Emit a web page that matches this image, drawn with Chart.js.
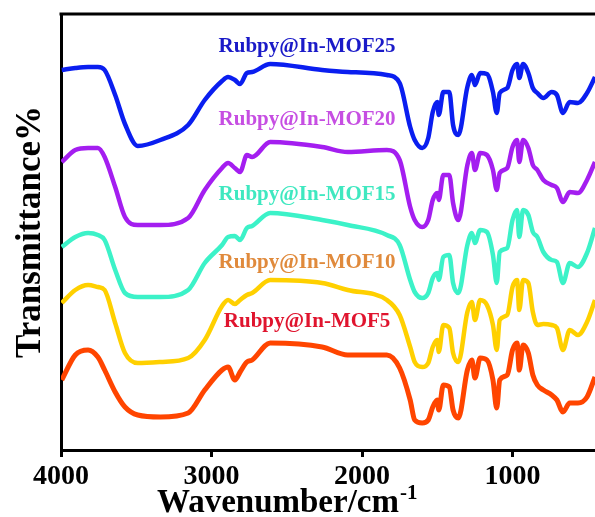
<!DOCTYPE html>
<html>
<head>
<meta charset="utf-8">
<script src="https://cdn.jsdelivr.net/npm/chart.js@4/dist/chart.umd.min.js"></script>
<style>
  html, body { margin: 0; padding: 0; background: #ffffff; }
  #wrap { width: 595px; height: 517px; }
</style>
</head>
<body>
<div id="wrap"><canvas id="c" width="595" height="517"></canvas></div>
<script>
// Wavenumbers (cm-1), shared by all spectra
const wavenumbers = [3995, 3905, 3820, 3755, 3710, 3640, 3575, 3490, 3340, 3155,
  3045, 2930, 2890, 2845, 2810, 2765, 2730, 2610, 2265, 2095,
  1835, 1750, 1680, 1650, 1600, 1560, 1530, 1500, 1490, 1460,
  1420, 1395, 1360, 1300, 1270, 1250, 1215, 1170, 1130, 1105,
  1085, 1035, 1000, 970, 955, 930, 895, 865, 835, 795,
  740, 705, 665, 620, 565, 505, 452];

// Stacked transmittance traces (arbitrary offset units)
const mof25 = [381, 383, 384, 384, 381, 356, 327, 305, 311, 326,
  351, 370, 374, 371, 367, 378, 379, 387, 381, 379,
  376, 368, 324, 311, 303, 313, 339, 349, 336, 359,
  359, 326, 316, 364, 376, 366, 378, 377, 359, 338,
  358, 363, 381, 387, 373, 387, 378, 363, 358, 353,
  359, 356, 338, 349, 348, 358, 374];
const mof20 = [289, 301, 303, 303, 294, 264, 234, 226, 226, 233,
  261, 283, 288, 283, 279, 296, 294, 309, 304, 299,
  301, 291, 244, 231, 224, 231, 251, 258, 251, 276,
  276, 248, 231, 286, 298, 281, 298, 296, 281, 261,
  278, 283, 304, 311, 289, 311, 303, 286, 281, 271,
  266, 263, 249, 259, 258, 271, 289];
const mof15 = [204, 214, 218, 216, 211, 181, 158, 154, 154, 161,
  188, 206, 214, 215, 211, 223, 225, 238, 231, 226,
  216, 206, 171, 159, 153, 158, 173, 178, 171, 194,
  196, 168, 158, 206, 218, 208, 221, 219, 196, 168,
  199, 203, 231, 241, 214, 241, 236, 219, 214, 199,
  191, 189, 168, 188, 184, 198, 223];
const mof10 = [148, 161, 166, 164, 161, 128, 98, 88, 89, 93,
  111, 145, 151, 147, 151, 156, 158, 171, 168, 161,
  151, 136, 104, 89, 84, 88, 104, 111, 99, 126,
  123, 98, 89, 139, 149, 131, 151, 146, 126, 101,
  131, 136, 164, 171, 141, 171, 168, 139, 126, 127,
  126, 123, 101, 121, 116, 129, 151];
const mof5 = [71, 96, 101, 94, 81, 59, 44, 36, 34, 38,
  61, 81, 84, 71, 79, 89, 91, 108, 104, 96,
  96, 83, 51, 31, 28, 31, 44, 51, 41, 66,
  64, 41, 33, 81, 91, 73, 93, 91, 71, 43,
  71, 76, 101, 108, 81, 106, 98, 76, 66, 61,
  56, 51, 39, 48, 48, 54, 74];

const seriesNames = ['Rubpy@In-MOF25', 'Rubpy@In-MOF20', 'Rubpy@In-MOF15', 'Rubpy@In-MOF10', 'Rubpy@In-MOF5'];
const labelWavenumber = 2365;
const labelLevels = [404, 331, 256, 188, 129];
const xTicks = [1000, 2000, 3000, 4000];

const lineColors = ['#0a1ef0', '#a41ef0', '#3cf2c8', '#ffd000', '#ff4500'];
const labelColors = ['#1a1ac8', '#c64ee2', '#3fe8c0', '#e08a3c', '#e0142e'];
const allSeries = [mof25, mof20, mof15, mof10, mof5];

const FONT = '"Liberation Serif", "Times New Roman", serif';

const datasets = allSeries.map((vals, i) => ({
  label: seriesNames[i],
  data: wavenumbers.map((w, j) => ({ x: w, y: vals[j] })),
  borderColor: lineColors[i],
  borderWidth: i === 4 ? 5 : 4.5,
  pointRadius: 0,
  fill: false,
  cubicInterpolationMode: 'monotone'
}));

const framePlugin = {
  id: 'frame',
  afterDraw(chart) {
    const { ctx, chartArea: a, scales } = chart;
    ctx.save();
    // top border
    ctx.strokeStyle = '#000';
    ctx.lineWidth = 3;
    ctx.beginPath();
    ctx.moveTo(a.left - 1.5, a.top);
    ctx.lineTo(a.right, a.top);
    ctx.stroke();
    // series labels
    ctx.font = 'bold 21px ' + FONT;
    ctx.textAlign = 'center';
    ctx.textBaseline = 'middle';
    const px = scales.x.getPixelForValue(labelWavenumber);
    seriesNames.forEach((name, i) => {
      ctx.fillStyle = labelColors[i];
      ctx.fillText(name, px, scales.y.getPixelForValue(labelLevels[i]));
    });
    // x axis title with superscript
    ctx.fillStyle = '#000';
    ctx.textAlign = 'left';
    ctx.textBaseline = 'alphabetic';
    ctx.font = 'bold 33px ' + FONT;
    const main = 'Wavenumber/cm';
    const x0 = 157;
    const baseY = 512;
    ctx.fillText(main, x0, baseY);
    const w = ctx.measureText(main).width;
    ctx.font = 'bold 21px ' + FONT;
    ctx.fillText('-1', x0 + w + 1, baseY - 13);
    ctx.restore();
  }
};

new Chart(document.getElementById('c'), {
  type: 'line',
  data: { datasets },
  options: {
    responsive: false,
    animation: false,
    layout: { padding: { top: 14, right: 0, left: 0, bottom: 0 } },
    plugins: { legend: { display: false }, tooltip: { enabled: false } },
    scales: {
      x: {
        type: 'linear',
        reverse: true,
        min: 452,
        max: 4000,
        afterBuildTicks: (s) => { s.ticks = xTicks.map(v => ({ value: v })); },
        afterFit: (s) => { s.height = 67; },
        grid: { display: true, drawOnChartArea: false, drawTicks: true, tickLength: 7, tickWidth: 3, tickColor: '#000' },
        border: { display: true, color: '#000', width: 3 },
        ticks: {
          color: '#000',
          font: { family: FONT, size: 28, weight: 'bold' },
          padding: 3,
          maxRotation: 0,
          autoSkip: false,
          callback: (v) => String(v)
        }
      },
      y: {
        min: 1,
        max: 437,
        afterFit: (s) => { s.width = 61; },
        grid: { display: false },
        border: { display: true, color: '#000', width: 3 },
        ticks: { display: false },
        title: {
          display: true,
          text: 'Transmittance%',
          color: '#000',
          font: { family: FONT, size: 35, weight: 'bold' },
          padding: { top: 10, bottom: 0 }
        }
      }
    }
  },
  plugins: [framePlugin]
});
</script>
</body>
</html>
